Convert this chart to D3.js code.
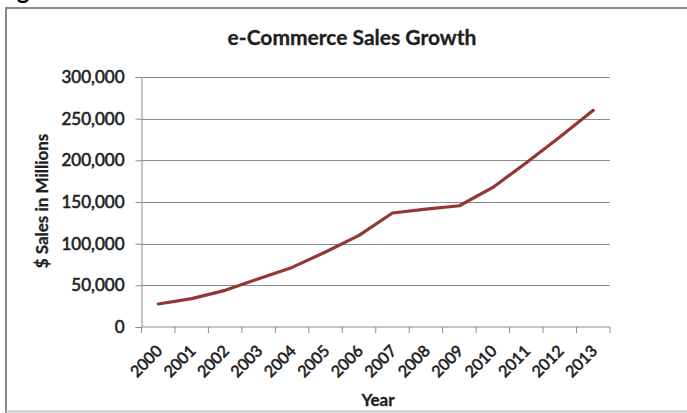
<!DOCTYPE html>
<html>
<head>
<meta charset="utf-8">
<script src="https://cdn.jsdelivr.net/npm/d3@7"></script>
<style>
  html, body { margin: 0; padding: 0; background: #fff; }
  svg { display: block; }
  text { font-family: Lato, "Open Sans", sans-serif; fill: #1e1e1e; }
  .tick-label { stroke: #1e1e1e; stroke-width: 0.6px; }
  .heavy { stroke: #1e1e1e; stroke-width: 0.3px; }
</style>
</head>
<body>
<svg id="chart" width="687" height="413"></svg>
<script>
// Annual e-commerce sales, $ millions
const years = ["2000","2001","2002","2003","2004","2005","2006","2007","2008","2009","2010","2011","2012","2013"];
const sales = [27600, 34000, 44000, 58000, 71500, 90000, 110000, 136800, 141500, 145500, 167500, 197000, 228000, 260000];
const yTicks = [0, 50000, 100000, 150000, 200000, 250000, 300000];

const svg = d3.select("#chart");
const W = 687, H = 413;
const margin = { left: 141.5, right: 77, top: 77, bottom: 86 };

// Figure caption sitting above the chart (only its descender shows)
svg.append("text")
  .attr("x", -3).attr("y", -1)
  .style("font-size", "24px").style("font-weight", "bold").style("fill", "#000")
  .text("Figure");

// Chart frame
svg.append("path")
  .attr("d", `M${W + 5},8 H6 V${H + 5}`)
  .attr("fill", "none").attr("stroke", "#8a8a8a").attr("stroke-width", 2);
svg.append("line")
  .attr("x1", 6).attr("x2", W).attr("y1", 411.5).attr("y2", 411.5)
  .attr("stroke", "#c8c8c8").attr("stroke-width", 2);

const x = d3.scaleBand().domain(years).range([margin.left, W - margin.right]).padding(0);
const y = d3.scaleLinear().domain([0, 300000]).range([H - margin.bottom, margin.top]);

// Horizontal gridlines
svg.append("g")
  .selectAll("line")
  .data(yTicks.filter(d => d > 0))
  .join("line")
  .attr("x1", margin.left).attr("x2", W - margin.right)
  .attr("y1", d => Math.round(y(d)) + 0.5).attr("y2", d => Math.round(y(d)) + 0.5)
  .attr("stroke", "#8c8c8c").attr("stroke-width", 1);

// Y axis
const yAxis = svg.append("g")
  .attr("transform", `translate(${margin.left},0)`)
  .call(d3.axisLeft(y).tickValues(yTicks).tickSize(6).tickPadding(11)
    .tickFormat(d3.format(",")));
yAxis.select(".domain").attr("stroke", "#8c8c8c");
yAxis.selectAll(".tick line").attr("stroke", "#8c8c8c");
yAxis.selectAll(".tick text")
  .attr("class", "tick-label")
  .style("font-size", "17px").style("fill", "#1e1e1e");

// X axis with tick marks on band boundaries
const xAxisG = svg.append("g").attr("transform", `translate(0,${y(0)})`);
xAxisG.append("line")
  .attr("x1", margin.left).attr("x2", W - margin.right)
  .attr("y1", 0).attr("y2", 0).attr("stroke", "#8c8c8c");
const boundaries = years.map(d => x(d)).concat([x(years[years.length - 1]) + x.bandwidth()]);
xAxisG.selectAll("line.tk")
  .data(boundaries)
  .join("line").attr("class", "tk")
  .attr("x1", d => d).attr("x2", d => d)
  .attr("y1", 0).attr("y2", 6).attr("stroke", "#8c8c8c");
xAxisG.selectAll("text.lbl")
  .data(years)
  .join("text").attr("class", "lbl tick-label")
  .attr("transform", d => `translate(${x(d) + x.bandwidth() / 2 + 5},${25}) rotate(-45)`)
  .attr("text-anchor", "end")
  .style("font-size", "16px")
  .text(d => d);

// Sales line
const line = d3.line()
  .x((d, i) => x(years[i]) + x.bandwidth() / 2)
  .y(d => y(d));
svg.append("path")
  .datum(sales)
  .attr("d", line)
  .attr("fill", "none")
  .attr("stroke", "#943634")
  .attr("stroke-width", 3.2)
  .attr("stroke-linejoin", "round")
  .attr("stroke-linecap", "round");

// Title
svg.append("text")
  .attr("x", 352).attr("y", 45)
  .attr("class", "heavy")
  .attr("text-anchor", "middle")
  .style("font-size", "21px").style("font-weight", "bold")
  .text("e-Commerce Sales Growth");

// Axis titles
svg.append("text")
  .attr("class", "heavy")
  .attr("transform", `translate(48,201) rotate(-90)`)
  .attr("text-anchor", "middle")
  .style("font-size", "17px").style("font-weight", "bold")
  .text("$ Sales in Millions");

svg.append("text")
  .attr("class", "heavy")
  .attr("x", 378).attr("y", 406)
  .attr("text-anchor", "middle")
  .style("font-size", "17px").style("font-weight", "bold")
  .text("Year");
</script>
</body>
</html>
